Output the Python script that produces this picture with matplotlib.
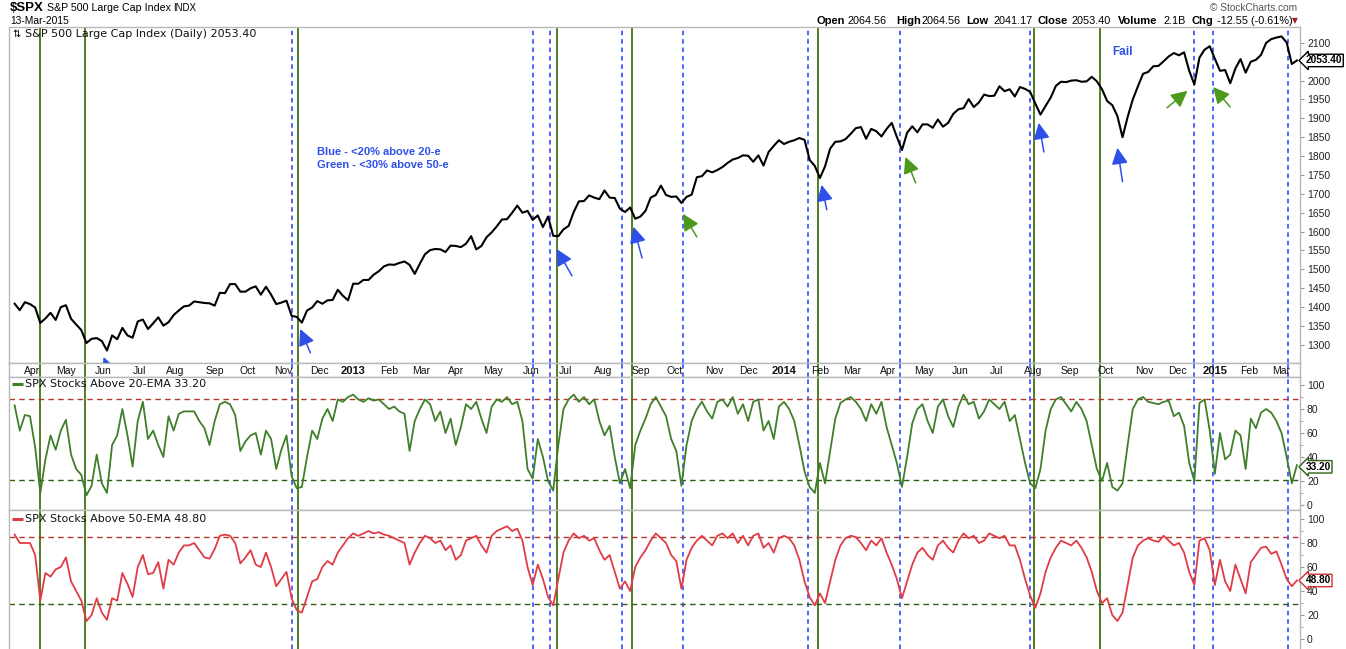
import numpy as np
import pandas as pd
import matplotlib
matplotlib.use("Agg")
import matplotlib.pyplot as plt
import matplotlib.transforms as mtrans
from matplotlib.ticker import MultipleLocator

plt.rcParams['font.family'] = ['Liberation Sans', 'DejaVu Sans']

# ------------------------------------------------------------------ data
HOLIDAYS = ['2012-04-06', '2012-05-28', '2012-07-04', '2012-09-03', '2012-10-29', '2012-10-30',
            '2012-11-22', '2012-12-25', '2013-01-01', '2013-01-21', '2013-02-18', '2013-03-29',
            '2013-05-27', '2013-07-04', '2013-09-02', '2013-11-28', '2013-12-25', '2014-01-01',
            '2014-01-20', '2014-02-17', '2014-04-18', '2014-05-26', '2014-07-04', '2014-09-01',
            '2014-11-27', '2014-12-25', '2015-01-01', '2015-01-19', '2015-02-16']
START_DATE = "2012-03-16"
END_DATE = "2015-03-13"

# S&P 500 level, every 3rd session counted back from the last one
spx_close = [
    1409, 1392, 1413, 1408, 1399, 1358, 1370, 1385, 1366, 1400,
    1405, 1369, 1354, 1339, 1305, 1316, 1318, 1310, 1285, 1325,
    1315, 1345, 1325, 1319, 1362, 1367, 1342, 1357, 1373, 1351,
    1360, 1379, 1391, 1402, 1404, 1415, 1413, 1411, 1410, 1404,
    1438, 1437, 1461, 1461, 1441, 1441, 1450, 1455, 1433, 1454,
    1433, 1408, 1412, 1417, 1377, 1374, 1359, 1391, 1399, 1416,
    1409, 1418, 1419, 1446, 1430, 1418, 1462, 1462, 1472, 1472,
    1486, 1495, 1508, 1513, 1512, 1517, 1521, 1512, 1488, 1515,
    1540, 1551, 1554, 1553, 1546, 1563, 1562, 1559, 1568, 1588,
    1553, 1562, 1585, 1598, 1614, 1632, 1633, 1650, 1669, 1650,
    1655, 1631, 1643, 1612, 1640, 1589, 1588, 1606, 1615, 1652,
    1680, 1681, 1696, 1690, 1686, 1709, 1690, 1689, 1661, 1652,
    1664, 1634, 1640, 1655, 1690, 1697, 1722, 1697, 1692, 1693,
    1676, 1692, 1698, 1744, 1747, 1762, 1757, 1763, 1771, 1782,
    1791, 1795, 1802, 1801, 1785, 1802, 1775, 1811, 1827, 1842,
    1832, 1838, 1842, 1848, 1843, 1790, 1774, 1742, 1773, 1820,
    1838, 1839, 1845, 1859, 1874, 1877, 1846, 1872, 1866, 1852,
    1872, 1888, 1851, 1816, 1862, 1879, 1863, 1884, 1884, 1875,
    1897, 1878, 1888, 1912, 1924, 1927, 1951, 1930, 1942, 1963,
    1959, 1960, 1985, 1972, 1977, 1958, 1983, 1978, 1970, 1939,
    1910, 1933, 1955, 1986, 1997, 1996, 2000, 2001, 1997, 1998,
    2010, 1998, 1977, 1946, 1935, 1906, 1850, 1904, 1950, 1985,
    2018, 2023, 2038, 2039, 2051, 2064, 2073, 2067, 2075, 2026,
    1990, 2061, 2082, 2091, 2058, 2026, 2028, 1993, 2032, 2057,
    2021, 2050, 2055, 2068, 2100, 2110, 2114, 2117, 2101, 2044,
    2053.40]

# % of SPX stocks above 20-EMA, same sessions
pct_above_20ema = [
    83, 62, 75, 74, 48, 10, 38, 58, 46, 62,
    71, 42, 30, 25, 8, 16, 42, 18, 10, 50,
    58, 80, 58, 32, 70, 86, 55, 62, 50, 40,
    74, 62, 76, 78, 78, 78, 70, 64, 50, 70,
    84, 86, 84, 75, 45, 53, 58, 60, 42, 62,
    55, 30, 46, 58, 24, 14, 15, 40, 62, 55,
    72, 80, 70, 88, 86, 90, 92, 88, 86, 89,
    87, 88, 84, 80, 82, 78, 76, 45, 70, 80,
    88, 84, 70, 78, 60, 72, 50, 65, 84, 80,
    86, 72, 60, 82, 88, 86, 90, 84, 86, 70,
    30, 22, 55, 40, 20, 12, 50, 80, 88, 92,
    86, 90, 84, 88, 70, 58, 66, 40, 18, 30,
    14, 50, 62, 72, 84, 90, 82, 74, 55, 45,
    16, 50, 70, 80, 86, 78, 72, 86, 88, 82,
    90, 76, 84, 70, 86, 88, 62, 70, 55, 82,
    86, 80, 70, 50, 28, 15, 10, 35, 18, 45,
    72, 85, 88, 90, 86, 80, 70, 84, 76, 86,
    65, 50, 35, 15, 40, 68, 80, 84, 70, 60,
    82, 88, 74, 65, 82, 92, 84, 86, 72, 78,
    88, 84, 80, 86, 70, 75, 55, 35, 18, 14,
    30, 62, 80, 88, 90, 84, 78, 86, 80, 70,
    50, 30, 20, 35, 15, 12, 18, 50, 80, 88,
    90, 86, 85, 84, 86, 87, 74, 77, 66, 35,
    20, 85, 88, 62, 26, 60, 38, 42, 62, 58,
    30, 72, 64, 77, 80, 77, 70, 60, 40, 18,
    33.20]

# % of SPX stocks above 50-EMA, same sessions
pct_above_50ema = [
    87, 80, 80, 80, 70, 32, 55, 52, 58, 60,
    68, 48, 40, 32, 15, 20, 34, 22, 16, 34,
    32, 55, 46, 35, 60, 70, 54, 55, 64, 42,
    66, 62, 72, 78, 78, 80, 74, 68, 67, 75,
    86, 87, 86, 80, 63, 68, 74, 62, 60, 72,
    60, 44, 50, 56, 34, 24, 22, 35, 48, 50,
    60, 65, 62, 72, 78, 84, 88, 86, 88, 90,
    88, 89, 87, 86, 84, 82, 80, 62, 72, 80,
    86, 84, 80, 82, 74, 78, 66, 70, 82, 84,
    86, 78, 72, 86, 90, 92, 94, 90, 92, 82,
    60, 45, 62, 50, 35, 28, 50, 72, 82, 88,
    84, 86, 82, 84, 74, 66, 70, 56, 42, 48,
    40, 60, 68, 74, 82, 88, 84, 80, 70, 65,
    42, 66, 76, 82, 86, 82, 78, 86, 88, 84,
    88, 80, 86, 78, 86, 88, 76, 80, 72, 84,
    86, 84, 78, 66, 48, 35, 28, 38, 30, 48,
    66, 78, 84, 86, 85, 80, 74, 82, 78, 84,
    72, 62, 50, 34, 48, 62, 72, 76, 70, 66,
    78, 82, 76, 72, 82, 88, 84, 86, 80, 82,
    88, 86, 84, 86, 78, 78, 66, 50, 36, 26,
    38, 56, 68, 76, 82, 80, 78, 82, 76, 68,
    56, 40, 30, 34, 20, 15, 22, 45, 68, 78,
    82, 84, 82, 81, 86, 82, 78, 80, 72, 56,
    45, 82, 84, 74, 45, 66, 48, 40, 62, 50,
    38, 64, 70, 76, 77, 71, 73, 62, 50, 44,
    48.80]

green_event_dates = ['2012-04-10', '2012-05-16', '2012-11-14', '2013-06-24', '2013-08-26',
                     '2014-01-31', '2014-08-01', '2014-09-26']
blue_event_dates = ['2012-11-08', '2013-06-04', '2013-06-18', '2013-08-16', '2013-10-08',
                    '2014-01-23', '2014-04-10', '2014-07-30', '2014-12-15', '2014-12-31',
                    '2015-03-06']

# (tail date, tail price, head date, head price)
blue_arrows = [('2012-06-11', 1199, '2012-06-01', 1268),
               ('2012-11-26', 1279, '2012-11-15', 1342),
               ('2013-07-08', 1483, '2013-06-24', 1554),
               ('2013-09-04', 1530, '2013-08-27', 1613),
               ('2014-02-07', 1658, '2014-02-04', 1724),
               ('2014-08-11', 1811, '2014-08-06', 1888),
               ('2014-10-15', 1732, '2014-10-10', 1822)]
green_arrows = [('2013-10-18', 1586, '2013-10-08', 1647),
                ('2014-04-24', 1729, '2014-04-15', 1798),
                ('2014-11-20', 1928, '2014-12-09', 1973),
                ('2015-01-15', 1930, '2014-12-31', 1983)]

level_20ema = (88, 21)
level_50ema = (85, 29)

month_abbr = ['Jan', 'Feb', 'Mar', 'Apr', 'May', 'Jun', 'Jul', 'Aug', 'Sep', 'Oct', 'Nov', 'Dec']
price_ticks = [1300, 1350, 1400, 1450, 1500, 1550, 1600, 1650, 1700, 1750, 1800, 1850, 1900,
               1950, 2000, 2100]
pct_ticks = [0, 20, 40, 60, 80, 100]

symbol = "$SPX"
name = "S&P 500 Large Cap Index"
exchange = "INDX"
date_str = "13-Mar-2015"
quote_fields = [("Open", "2064.56"), ("High", "2064.56"), ("Low", "2041.17"),
                ("Close", "2053.40"), ("Volume", "2.1B"), ("Chg", "-12.55 (-0.61%)")]
last_close = 2053.40
last_20 = 33.20
last_50 = 48.80

# ------------------------------------------------------------------ colours
BLUE_TXT = '#2f50e8'
BLUE_LINE = '#1f3cff'
GREEN_VL = '#336600'
GREEN_ARROW = '#4c9a1c'
GREEN_PLOT = '#3f7f2a'
RED_PLOT = '#e03c46'
DASH_RED = '#b03a2a'
DASH_GREEN = '#2f5f10'
FRAME = '#b8b8b8'

# ------------------------------------------------------------------ x axis (sessions)
days = pd.bdate_range(START_DATE, END_DATE, freq='C', holidays=HOLIDAYS)
n = len(days)
idx_series = pd.Series(np.arange(n), index=days)


def tx(d):
    return int(days.searchsorted(pd.Timestamp(d)))


samp = np.arange(n - 1, -1, -3)[::-1]
ip = samp[-len(spx_close):]
i20 = samp[-len(pct_above_20ema):]
i50 = samp[-len(pct_above_50ema):]

# ------------------------------------------------------------------ figure
W, H = 1346, 649
fig = plt.figure(figsize=(W / 100, H / 100), dpi=100)


def fx(px):
    return px / W


def fy(py):
    return 1 - py / H


L, R = 9, 1300
ax_p = fig.add_axes([fx(L), fy(363), (R - L) / W, (363 - 27) / H])
ax_b = fig.add_axes([fx(L), fy(377), (R - L) / W, (377 - 363) / H])
ax_2 = fig.add_axes([fx(L), fy(510), (R - L) / W, (510 - 377) / H])
ax_3 = fig.add_axes([fx(L), 0.0, (R - L) / W, (649 - 510) / H])
axes = [ax_p, ax_b, ax_2, ax_3]

xlim = (-2.3, n - 1 + 1.8)
for ax in axes:
    ax.set_xlim(*xlim)
    ax.set_xticks([])
    for s in ax.spines.values():
        s.set_color(FRAME)
        s.set_linewidth(1.0)
    ax.set_facecolor('white')
ax_3.spines['bottom'].set_visible(False)
ax_b.set_yticks([])
ax_b.set_ylim(0, 1)

# vertical event lines
for ax in axes:
    for d in green_event_dates:
        ax.axvline(tx(d), color=GREEN_VL, lw=1.2, zorder=1)
    for d in blue_event_dates:
        ax.axvline(tx(d), color=BLUE_LINE, lw=1.1, ls=(0, (3, 2.5)), zorder=1)

# price panel
ax_p.plot(ip, spx_close, color='black', lw=1.5, zorder=3)
ax_p.set_ylim(1252, 2142)
ax_p.set_yticks(price_ticks)
ax_p.yaxis.tick_right()
ax_p.tick_params(axis='y', direction='out', length=3, color='#999999', labelsize=7.5,
                 labelcolor='#222222', pad=2)

# indicator panels
for ax, xi, vals, col, lev, ylim in [
        (ax_2, i20, pct_above_20ema, GREEN_PLOT, level_20ema, (-4.2, 106.7)),
        (ax_3, i50, pct_above_50ema, RED_PLOT, level_50ema, (-8.3, 107.5))]:
    ax.plot(xi, vals, color=col, lw=1.3, zorder=3)
    ax.axhline(lev[0], color=DASH_RED, lw=1.0, ls=(0, (4, 3)), zorder=2)
    ax.axhline(lev[1], color=DASH_GREEN, lw=1.0, ls=(0, (4, 3)), zorder=2)
    ax.set_ylim(*ylim)
    ax.set_yticks(pct_ticks)
    ax.yaxis.set_minor_locator(MultipleLocator(10))
    ax.yaxis.tick_right()
    ax.tick_params(axis='y', which='both', direction='out', color='#999999', labelsize=7.5,
                   labelcolor='#222222', pad=2)
    ax.tick_params(axis='y', which='major', length=3)
    ax.tick_params(axis='y', which='minor', length=2)

# month labels
firsts = idx_series.groupby(days.to_period('M')).min()
btrans = mtrans.blended_transform_factory(ax_b.transData, ax_b.transAxes)
for i, (per, ix) in enumerate(firsts.items()):
    if i == 0:
        continue
    if per.month == 1:
        ax_b.text(ix, 0.45, str(per.year), transform=btrans, ha='center', va='center',
                  fontsize=8, fontweight='bold', color='#111111', zorder=4)
    else:
        ax_b.text(ix, 0.45, month_abbr[per.month - 1], transform=btrans, ha='center',
                  va='center', fontsize=7.5, color='#111111', zorder=4)

# arrows
for arrows, col in [(blue_arrows, BLUE_TXT), (green_arrows, GREEN_ARROW)]:
    for td, tp, hd, hp in arrows:
        ax_p.annotate('', xy=(tx(hd), hp), xytext=(tx(td), tp),
                      arrowprops=dict(arrowstyle='-|>,head_length=0.9,head_width=0.45',
                                      mutation_scale=11, color=col, lw=1.1,
                                      shrinkA=0, shrinkB=0),
                      annotation_clip=False, zorder=6)

ax_p.text(tx('2014-10-15'), 2076, 'Fail', color=BLUE_TXT, fontsize=8.5, fontweight='bold',
          ha='center', va='center')
ax_p.text(tx('2012-11-30'), 1811, 'Blue - <20% above 20-e', color=BLUE_TXT, fontsize=8,
          fontweight='bold', ha='left', va='center')
ax_p.text(tx('2012-11-30'), 1777, 'Green - <30% above 50-e', color=BLUE_TXT, fontsize=8,
          fontweight='bold', ha='left', va='center')

# panel titles
ax_p.text(0.0023, 0.979, '\u21c5', transform=ax_p.transAxes, fontsize=7, va='center',
          ha='left', family='DejaVu Sans')
ax_p.text(0.0124, 0.979, f'{name} (Daily) {last_close:.2f}', transform=ax_p.transAxes,
          fontsize=8, va='center', ha='left', family='DejaVu Sans', color='#111111')
for ax, col, lab, yv in [(ax_2, GREEN_PLOT, f'SPX Stocks Above 20-EMA {last_20:.2f}', 0.947),
                         (ax_3, RED_PLOT, f'SPX Stocks Above 50-EMA {last_50:.2f}', 0.935)]:
    ax.plot([0.0025, 0.0105], [yv, yv], transform=ax.transAxes, color=col, lw=2.2,
            solid_capstyle='butt', clip_on=False, zorder=5)
    ax.text(0.0124, yv, lab, transform=ax.transAxes, fontsize=8, va='center', ha='left',
            family='DejaVu Sans', color='#111111', zorder=5)


# value tags
def tag(ax, y, txt, ec, dy=0):
    tr = mtrans.blended_transform_factory(ax.transAxes, ax.transData)
    ax.annotate(txt, xy=(1.0, y), xycoords=tr, xytext=(4, dy), textcoords='offset points',
                ha='left', va='center', fontsize=7.3, fontweight='bold', color='black',
                bbox=dict(boxstyle='larrow,pad=0.12', fc='white', ec=ec, lw=1.0),
                annotation_clip=False, zorder=7)


tag(ax_p, last_close, f'{last_close:.2f}', 'black')
tag(ax_2, last_20, f'{last_20:.2f}', DASH_GREEN, dy=-1.2)
tag(ax_3, last_50, f'{last_50:.2f}', '#d03030')

# header
fig.text(fx(10), fy(8), symbol, fontsize=9.5, fontweight='bold', va='center', ha='left')
fig.text(fx(47), fy(8), name, fontsize=7.7, va='center', ha='left')
fig.text(fx(173), fy(8), exchange, fontsize=7, va='center', ha='left')
fig.text(fx(10), fy(21), date_str, fontsize=7.4, va='center', ha='left')
fig.text(fx(1210), fy(8), '\u00a9 StockCharts.com', fontsize=7.3, va='center', ha='left',
         color='#555555')
label_x = [817, 896, 966, 1038, 1118, 1192]
value_x = [847, 922, 993, 1072, 1164, 1217]
for (lab, val), lx, vx in zip(quote_fields, label_x, value_x):
    fig.text(fx(lx), fy(21), lab, fontsize=8, fontweight='bold', va='center', ha='left')
    fig.text(fx(vx), fy(21), val, fontsize=7.8, va='center', ha='left')
fig.text(fx(1292), fy(21), '\u25bc', fontsize=5.5, va='center', ha='left', color='#a02020',
         family=['DejaVu Sans'])

fig.savefig('out.png', dpi=100)
